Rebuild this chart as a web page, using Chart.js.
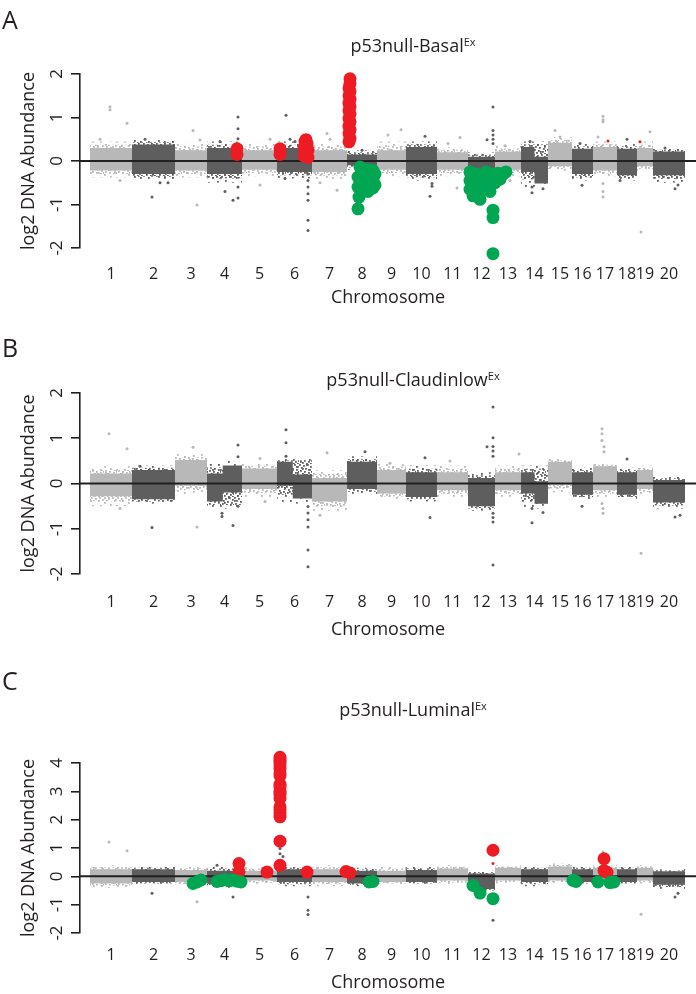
<!DOCTYPE html>
<html>
<head>
<meta charset="utf-8">
<script src="https://cdn.jsdelivr.net/npm/chart.js@4.4.0/dist/chart.umd.min.js"></script>
<style>
  body { margin: 0; background: #fff; width: 696px; height: 994px; position: relative; overflow: hidden;
         font-family: "Open Sans", sans-serif; color: #231f20; }
  .panel { position: absolute; left: 0; width: 696px; }
  .panel canvas { display: block; }
  .letter { position: absolute; left: 2px; font-size: 25px; line-height: 25px; }
  .title { position: absolute; left: 413px; transform: translateX(-50%); font-size: 18px; line-height: 17px; white-space: nowrap; }
  .title sup { font-size: 11px; vertical-align: baseline; position: relative; top: -6px; }
</style>
</head>
<body>
<div class="panel" style="top:0px"><canvas id="basal" width="696" height="310"></canvas></div>
<div class="panel" style="top:310px"><canvas id="claudin" width="696" height="336"></canvas></div>
<div class="panel" style="top:646px"><canvas id="luminal" width="696" height="348"></canvas></div>

<div class="letter" style="top:7px">A</div>
<div class="letter" style="top:335px">B</div>
<div class="letter" style="top:668px">C</div>
<div class="title" style="top:37px">p53null-Basal<sup>Ex</sup></div>
<div class="title" style="top:371px">p53null-Claudinlow<sup>Ex</sup></div>
<div class="title" style="top:701px">p53null-Luminal<sup>Ex</sup></div>

<script>
// Chromosomes (relative probe span of each chromosome)
const chromLabels = ["1","2","3","4","5","6","7","8","9","10","11","12","13","14","15","16","17","18","19","20"];
const chromLength = [42,43,32,35,35,35,35,30,29,31,31,27,26,27,24,21,24,20,16,32];

// Panel A - p53null-Basal
const basalCoreHi = [0.3,0.38,0.25,0.3,0.25,0.3,0.25,0.15,0.25,0.32,0.2,0.1,0.22,0.32,0.42,0.28,0.32,0.28,0.3,0.22];
const basalCoreLo = [-0.22,-0.3,-0.22,-0.3,-0.2,-0.25,-0.25,-0.1,-0.2,-0.3,-0.2,-0.2,-0.2,-0.25,-0.12,-0.3,-0.22,-0.33,-0.12,-0.33];
const basalHaloHi = [0.45,0.48,0.42,0.45,0.42,0.45,0.42,0.25,0.45,0.45,0.32,0.2,0.35,0.45,0.55,0.4,0.45,0.4,0.45,0.3];
const basalHaloLo = [-0.38,-0.42,-0.38,-0.5,-0.35,-0.4,-0.42,-0.2,-0.35,-0.45,-0.35,-0.3,-0.35,-0.6,-0.25,-0.45,-0.35,-0.45,-0.25,-0.5];
const basalStepChr = [14];
const basalStepAt = [0.5];
const basalStepHi = [0.1];
const basalStepLo = [-0.52];
const basalGrayX = [20,20,37,10,30, 62,55,70,78, 103,107,110, 148,148,148,148,148,143,135,130, 170,180,
  196,200,205,218,218,218,218,218,218,218,195, 237,247,230,240, 272,278, 311,298, 335,340,342,342,
  358,370,367, 403,403,403,403,403,397, 420,415, 442,442,453,440, 470,465, 492,490,
  513,513,513,513,513,513,508, 537,530, 551,560, 585,588,575];
const basalGrayY = [1.25,1.18,0.87,0.5,-0.45, -0.83,0.5,-0.5,-0.5, 0.7,-1.01,0.48, 1.01,0.74,0.51,-0.6,-0.85,-0.9,-0.7,0.45, -0.55,0.5,
  1.05,0.5,0.45,-0.3,-0.45,-0.6,-0.75,-0.9,-1.36,-1.6,-0.4, 0.63,-0.67,-0.5,0.5, 0.25,0.12, 0.72,0.6, 0.57,-0.81,-0.52,-0.58,
  0.4,0.54,-0.62, 1.24,0.7,0.6,0.5,0.4,0.49, -0.45,0.35, -0.6,-0.73,-0.64,0.45, 0.55,0.7, -0.56,0.4,
  1.03,0.95,0.9,-0.52,-0.7,-0.83,0.55, 0.5,-0.45, -1.63,0.67, -0.64,-0.55,0.3];
const basalTraceX = [518,550];
const basalTraceY = [0.46,0.44];
const basalGainX = [147,147, 190,190, 214,214,215,218,218,217,216,
  259,260,259,260,259,260,259,260,259,260,259,260,259,260,259,260,260];
const basalGainY = [0.15,0.28, 0.15,0.28, 0.12,0.3,0.45,0.08,0.25,0.4,0.49,
  0.44,0.52,0.63,0.71,0.8,0.9,0.98,1.08,1.16,1.25,1.33,1.42,1.5,1.6,1.68,1.78,1.89];
const basalLossX = [270,268,268,269,268, 273,273,273, 278,278,278,278, 283,283,283, 285,285, 280,
  380,380,380,383,386,386,388,390,392,393,396,398,400, 403,405,408,410,413,416, 403,403,403];
const basalLossY = [-0.14,-0.37,-0.6,-0.83,-1.1, -0.22,-0.45,-0.68, -0.2,-0.35,-0.55,-0.7, -0.22,-0.42,-0.62, -0.3,-0.55, -0.45,
  -0.25,-0.45,-0.65,-0.8,-0.3,-0.55,-0.75,-0.88,-0.35,-0.6,-0.25,-0.45,-0.7, -0.3,-0.5,-0.28,-0.42,-0.3,-0.25, -1.13,-1.3,-2.13];

// Panel B - p53null-Claudinlow
const claudinCoreHi = [0.22,0.3,0.52,0.22,0.33,0.48,0.12,0.48,0.3,0.25,0.25,0.12,0.25,0.25,0.48,0.25,0.38,0.25,0.3,0.08];
const claudinCoreLo = [-0.28,-0.35,-0.05,-0.4,-0.12,-0.05,-0.4,-0.12,-0.22,-0.3,-0.15,-0.5,-0.15,-0.22,-0.02,-0.25,-0.15,-0.25,-0.12,-0.42];
const claudinHaloHi = [0.38,0.4,0.65,0.5,0.45,0.55,0.3,0.6,0.45,0.4,0.4,0.25,0.4,0.4,0.55,0.35,0.45,0.35,0.4,0.15];
const claudinHaloLo = [-0.5,-0.45,-0.25,-0.55,-0.3,-0.45,-0.6,-0.25,-0.35,-0.4,-0.3,-0.6,-0.3,-0.55,-0.2,-0.35,-0.3,-0.35,-0.25,-0.55];
const claudinStepChr = [4,6,14];
const claudinStepAt = [0.45,0.45,0.5];
const claudinStepHi = [0.4,0.2,0.05];
const claudinStepLo = [-0.2,-0.33,-0.45];
const claudinGrayX = [19,37,30, 62,50, 103,107, 148,148,132,132,143,148, 170,175,
  196,196,196,218,218,218,218,218,218, 237,230, 275, 300, 335,340, 360,
  403,403,403,403,403,397,403,403,403,403, 429, 442,442,453, 492,
  512,512,512,514,514,512,513,513, 537, 551, 585,590];
const claudinGrayY = [1.1,0.77,-0.55, -0.97,0.38, 0.8,-0.96, 0.85,0.59,-0.66,-0.73,-0.93,-0.5, 0.55,-0.4,
  1.19,0.9,0.6,-0.51,-0.65,-0.8,-0.96,-1.47,-1.84, 0.68,-0.7, 0.7, 0.45, 0.57,-0.75, 0.5,
  1.69,1.01,0.82,0.72,0.6,0.81,-0.66,-0.75,-0.85,-1.8, 0.65, -0.55,-0.87,-0.64, -0.5,
  1.21,1.1,0.95,0.81,0.7,-0.44,-0.55,-0.66, 0.54, -1.54, -0.74,-0.7];

// Panel C - p53null-Luminal
const luminalCoreHi = [0.25,0.25,0.22,0.2,0.2,0.25,0.25,0.2,0.2,0.22,0.28,0.1,0.3,0.25,0.35,0.25,0.3,0.25,0.3,0.18];
const luminalCoreLo = [-0.25,-0.2,-0.2,-0.25,-0.15,-0.2,-0.2,-0.25,-0.2,-0.2,-0.15,-0.45,-0.15,-0.2,-0.15,-0.2,-0.15,-0.2,-0.15,-0.3];
const luminalHaloHi = [0.4,0.35,0.35,0.35,0.35,0.35,0.4,0.3,0.35,0.35,0.4,0.2,0.4,0.35,0.45,0.35,0.4,0.35,0.4,0.25];
const luminalHaloLo = [-0.4,-0.3,-0.35,-0.4,-0.3,-0.35,-0.35,-0.35,-0.3,-0.3,-0.3,-0.55,-0.25,-0.35,-0.25,-0.3,-0.3,-0.3,-0.25,-0.45];
const luminalGrayX = [19,37, 62, 107, 143,127, 190,190,193, 218,218,218, 403, 513, 551, 585,588];
const luminalGrayY = [1.21,0.9, -0.6, -0.9, -0.73,0.39, 0.98,0.8,0.7, -0.73,-1.2,-1.35, -1.55, 0.86, -1.34, -0.73,-0.6];
const luminalTraceX = [403];
const luminalTraceY = [0.45];
const luminalGainX = [149,149, 177,
  190,190,190,190,190,190,190,190,190,190,190,190,190,190,190,190,190,190,190,
  217, 256,260, 403, 514,514,517];
const luminalGainY = [0.45,0.16, 0.15,
  4.3,4.2,4.1,4.0,3.9,3.8,3.65,3.55,3.25,3.15,3.0,2.9,2.75,2.45,2.35,2.2,2.1,1.24,0.39,
  0.15, 0.17,0.12, 0.92, 0.62,0.2,0.14];
const luminalLossX = [103,107,111, 127,131,135,139,143,147,151, 279,283, 383,390,403, 483,486, 508,520,524];
const luminalLossY = [-0.25,-0.2,-0.13, -0.18,-0.15,-0.12,-0.16,-0.13,-0.17,-0.2, -0.2,-0.18, -0.32,-0.59,-0.79, -0.14,-0.18, -0.2,-0.22,-0.2];

// Styles
const FONT = '"Open Sans", sans-serif';
const INK = "#231f20";
const LIGHT = "#b8b8b8", DARK = "#5e5e5e";
const RED = "#ed1c24", GREEN = "#00a651";

// speckle textures for the fringe of each chromosome cloud
const sparseDots = [[1,1],[9,0],[16,2],[21,5],[5,5],[12,7],[18,10],[2,10],[8,12],[14,14],[20,15],[4,15]];
const denseDots = [[0,0],[4,1],[8,0],[11,2],[2,3],[6,4],[10,5],[1,6],[5,7],[9,8],[12,7],[3,9],[7,10],[11,10]];
function speckle(color, dots, w, h) {
  const t = document.createElement("canvas");
  t.width = w; t.height = h;
  const c = t.getContext("2d");
  c.fillStyle = color;
  dots.forEach(d => c.fillRect(d[0], d[1], 1.8, 1.8));
  return c.createPattern(t, "repeat");
}
const HALO = [speckle(LIGHT, sparseDots, 24, 18), speckle(DARK, sparseDots, 24, 18)];
const FRINGE = [speckle(LIGHT, denseDots, 13, 11), speckle(DARK, denseDots, 13, 11)];

const chromStart = [];
let acc = 0;
chromLength.forEach(l => { chromStart.push(acc); acc += l; });
const chromMid = chromStart.map((s, i) => s + chromLength[i] / 2);

function chromOf(x) {
  let k = 0;
  chromStart.forEach((s, i) => { if (x >= s) k = i; });
  return k;
}

function boxShape(i, hi, lo) {
  const s = chromStart[i], e = s + chromLength[i];
  return [{x: s, y: hi}, {x: e, y: hi}, {x: e, y: lo}, {x: s, y: lo}, {x: s, y: hi}];
}

function coreShape(i, hi, lo, step) {
  if (!step) return boxShape(i, hi, lo);
  const s = chromStart[i], e = s + chromLength[i], m = s + chromLength[i] * step.at;
  return [{x: s, y: hi}, {x: m, y: hi}, {x: m, y: step.hi}, {x: e, y: step.hi}, {x: e, y: step.lo},
          {x: m, y: step.lo}, {x: m, y: lo}, {x: s, y: lo}, {x: s, y: hi}];
}

function pts(xs, ys) { return xs.map((x, i) => ({x: x, y: ys[i]})); }

function shapeSet(data, fill, order) {
  return {type: "line", data: data, fill: "shape", backgroundColor: fill, borderWidth: 0,
          borderColor: "transparent", pointRadius: 0, order: order};
}

function buildDatasets(p) {
  const ds = [];
  chromLength.forEach((len, i) => {
    const k = p.stepChr.indexOf(i + 1);
    const step = k >= 0 ? {at: p.stepAt[k], hi: p.stepHi[k], lo: p.stepLo[k]} : null;
    const tone = i % 2;
    const midHi = (p.coreHi[i] + p.haloHi[i]) / 2, midLo = (p.coreLo[i] + p.haloLo[i]) / 2;
    ds.push(shapeSet(boxShape(i, p.haloHi[i], p.haloLo[i]), HALO[tone], 6));
    ds.push(shapeSet(boxShape(i, midHi, midLo), FRINGE[tone], 5));
    ds.push(shapeSet(coreShape(i, p.coreHi[i], p.coreLo[i], step), tone ? DARK : LIGHT, 4));
  });
  ds.push({type: "scatter", data: pts(p.grayX, p.grayY), pointRadius: 1.5, borderWidth: 0,
    backgroundColor: p.grayX.map(x => chromOf(x) % 2 === 0 ? LIGHT : DARK), order: 3});
  ds.push({type: "line", data: [{x: -10, y: 0}, {x: 606, y: 0}], borderColor: INK, borderWidth: 2,
    pointRadius: 0, fill: false, order: 2});
  ds.push({type: "scatter", data: pts(p.traceX, p.traceY), pointRadius: 1.5, borderWidth: 0, backgroundColor: RED, order: 1});
  ds.push({type: "scatter", data: pts(p.lossX, p.lossY), pointRadius: 6.5, borderWidth: 0, backgroundColor: GREEN, clip: false, order: 0});
  ds.push({type: "scatter", data: pts(p.gainX, p.gainY), pointRadius: 6.5, borderWidth: 0, backgroundColor: RED, clip: false, order: 0});
  return ds;
}

// R style rotated y tick labels
const rotatedYTicks = {
  id: "rotatedYTicks",
  afterDraw(chart) {
    const s = chart.scales.y, c = chart.ctx;
    c.save();
    c.fillStyle = INK;
    c.font = "17px " + FONT;
    c.textAlign = "center";
    c.textBaseline = "middle";
    s.ticks.forEach(t => {
      c.save();
      c.translate(57, s.getPixelForValue(t.value));
      c.rotate(-Math.PI / 2);
      c.fillText(String(t.value), 0, 0);
      c.restore();
    });
    c.restore();
  }
};

function drawPanel(id, p) {
  new Chart(document.getElementById(id), {
    type: "scatter",
    data: { datasets: buildDatasets(p) },
    options: {
      responsive: false,
      animation: false,
      events: [],
      layout: { autoPadding: false, padding: { top: p.padTop, left: 0, right: 0, bottom: 0 } },
      plugins: { legend: { display: false }, tooltip: { enabled: false } },
      scales: {
        x: {
          type: "linear", min: -10, max: 606,
          grid: { display: false, drawTicks: false },
          border: { display: false },
          afterBuildTicks: s => { s.ticks = chromMid.map(v => ({value: v})); },
          afterFit: s => { s.height = p.xAxisH; s.paddingLeft = 0; s.paddingRight = 0; },
          ticks: { autoSkip: false, maxRotation: 0, minRotation: 0, padding: p.tickPad, color: INK,
                   font: { family: FONT, size: 16 }, callback: (v, i) => chromLabels[i] },
          title: { display: true, text: "Chromosome", color: INK, font: { family: FONT, size: 18 },
                   padding: { top: 0, bottom: p.titlePad } }
        },
        y: {
          type: "linear", min: p.yMin, max: p.yMax,
          afterBuildTicks: s => { s.ticks = p.yTicks.map(v => ({value: v})); },
          afterFit: s => { s.width = 80; s.paddingTop = 0; s.paddingBottom = 0; },
          grid: { drawOnChartArea: false, drawTicks: true, tickLength: 9, color: INK, lineWidth: 1.6 },
          border: { display: true, color: INK, width: 1.6 },
          ticks: { display: false },
          title: { display: true, text: "log2 DNA Abundance", color: INK, font: { family: FONT, size: 18 },
                   padding: { top: 18, bottom: 0 } }
        }
      }
    },
    plugins: [rotatedYTicks]
  });
}

drawPanel("basal", {
  coreHi: basalCoreHi, coreLo: basalCoreLo, haloHi: basalHaloHi, haloLo: basalHaloLo,
  stepChr: basalStepChr, stepAt: basalStepAt, stepHi: basalStepHi, stepLo: basalStepLo,
  grayX: basalGrayX, grayY: basalGrayY, traceX: basalTraceX, traceY: basalTraceY,
  gainX: basalGainX, gainY: basalGainY, lossX: basalLossX, lossY: basalLossY,
  yMin: -2, yMax: 2, yTicks: [-2, -1, 0, 1, 2],
  padTop: 74, xAxisH: 62, tickPad: 17, titlePad: 1
});

drawPanel("claudin", {
  coreHi: claudinCoreHi, coreLo: claudinCoreLo, haloHi: claudinHaloHi, haloLo: claudinHaloLo,
  stepChr: claudinStepChr, stepAt: claudinStepAt, stepHi: claudinStepHi, stepLo: claudinStepLo,
  grayX: claudinGrayX, grayY: claudinGrayY, traceX: [], traceY: [],
  gainX: [], gainY: [], lossX: [], lossY: [],
  yMin: -2, yMax: 2, yTicks: [-2, -1, 0, 1, 2],
  padTop: 83, xAxisH: 72, tickPad: 19, titlePad: 5
});

drawPanel("luminal", {
  coreHi: luminalCoreHi, coreLo: luminalCoreLo, haloHi: luminalHaloHi, haloLo: luminalHaloLo,
  stepChr: [], stepAt: [], stepHi: [], stepLo: [],
  grayX: luminalGrayX, grayY: luminalGrayY, traceX: luminalTraceX, traceY: luminalTraceY,
  gainX: luminalGainX, gainY: luminalGainY, lossX: luminalLossX, lossY: luminalLossY,
  yMin: -2, yMax: 4, yTicks: [-2, -1, 0, 1, 2, 3, 4],
  padTop: 117, xAxisH: 61, tickPad: 13, titlePad: 0
});
</script>
</body>
</html>
